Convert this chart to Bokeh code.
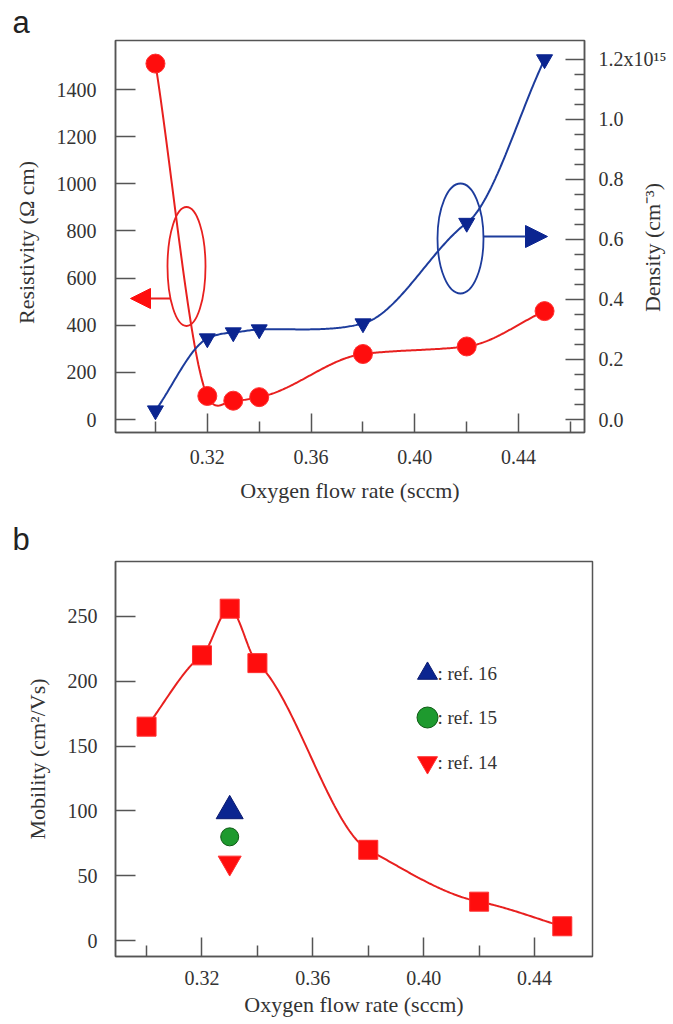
import numpy as np
from bokeh.plotting import figure
from bokeh.models import (Range1d, LinearAxis, FixedTicker, Arrow, NormalHead,
                          PrintfTickFormatter, Label)
from bokeh.layouts import column
from bokeh.embed import file_html
from bokeh.resources import INLINE
from bokeh.core.properties import value

# ---------------- data ----------------
flow_rate = [0.30, 0.32, 0.33, 0.34, 0.38, 0.42, 0.45]
resistivity = [1510, 100, 80, 95, 278, 310, 460]          # Ohm cm
density_e15 = [0.03, 0.27, 0.29, 0.30, 0.32, 0.655, 1.20]  # x1e15 cm^-3
mobility = [165, 220, 256, 214, 70, 30, 11]               # cm2/Vs

ref_labels = [": ref. 16", ": ref. 15", ": ref. 14"]
ref_flow = [0.33, 0.33, 0.33]
ref_mobility = [100, 80, 60]
ref_markers = ["triangle", "circle", "inverted_triangle"]

x_major_ticks = [0.32, 0.36, 0.40, 0.44]
x_minor_ticks_a = [0.30, 0.34, 0.38, 0.42, 0.46]
x_minor_ticks_b = [0.30, 0.34, 0.38, 0.42]
res_ticks = [0, 200, 400, 600, 800, 1000, 1200, 1400]
dens_ticks = [0.0, 0.2, 0.4, 0.6, 0.8, 1.0, 1.2]
dens_minor = [0.05, 0.10, 0.15, 0.25, 0.30, 0.35, 0.45, 0.50, 0.55,
              0.65, 0.70, 0.75, 0.85, 0.90, 0.95, 1.05, 1.10, 1.15]
mob_ticks = [0, 50, 100, 150, 200, 250]

# ---------------- style ----------------
RED = "#e8201f"
RED_M = "#ff0d0d"
BLUE = "#1d3c9c"
BLUE_M = "#0b2590"
GREEN = "#1e9a2e"
AX = "#555555"
TXT = "#333333"
SERIF = "Liberation Serif"
SANS = "Liberation Sans"
W = 673


def smooth(x, y, tension=0.5, n=300):
    """Cardinal (Catmull-Rom type) spline through the data points."""
    x = np.asarray(x, float)
    y = np.asarray(y, float)
    h = np.diff(x)
    m = np.zeros_like(y)
    m[0] = (y[1] - y[0]) / h[0]
    m[-1] = (y[-1] - y[-2]) / h[-1]
    for k in range(1, len(x) - 1):
        m[k] = (1 - tension) * (y[k + 1] - y[k - 1]) / (x[k + 1] - x[k - 1])
    xs = np.linspace(x[0], x[-1], n)
    idx = np.clip(np.searchsorted(x, xs) - 1, 0, len(x) - 2)
    t = (xs - x[idx]) / h[idx]
    h00 = 2 * t**3 - 3 * t**2 + 1
    h10 = t**3 - 2 * t**2 + t
    h01 = -2 * t**3 + 3 * t**2
    h11 = t**3 - t**2
    ys = h00 * y[idx] + h10 * h[idx] * m[idx] + h01 * y[idx + 1] + h11 * h[idx] * m[idx + 1]
    return xs, ys


def style_axis(ax, major_in=20, minor_in=10, standoff=18, label_standoff=14):
    ax.axis_line_color = AX
    ax.axis_line_width = 1.5
    ax.major_tick_in = major_in
    ax.major_tick_out = 0
    ax.minor_tick_in = minor_in
    ax.minor_tick_out = 0
    ax.major_tick_line_color = AX
    ax.major_tick_line_width = 1.5
    ax.minor_tick_line_color = AX
    ax.minor_tick_line_width = 1.5
    ax.major_label_text_font = SERIF
    ax.major_label_text_font_size = "20px"
    ax.major_label_text_color = TXT
    ax.major_label_standoff = standoff
    ax.axis_label_text_font = SERIF
    ax.axis_label_text_font_size = "22px"
    ax.axis_label_text_font_style = "normal"
    ax.axis_label_text_color = TXT
    ax.axis_label_standoff = label_standoff


def base_fig(xr, yr, bl, br, bt, bb, xlab, ylab, panel, title_standoff):
    p = figure(width=W, height=512, x_range=xr, y_range=yr,
               min_border_left=bl, min_border_right=br,
               min_border_top=bt, min_border_bottom=bb,
               output_backend="svg", toolbar_location=None,
               x_axis_label=xlab, y_axis_label=ylab)
    p.frame_align = False
    p.xgrid.visible = False
    p.ygrid.visible = False
    p.outline_line_color = AX
    p.outline_line_width = 1.5
    p.background_fill_color = "white"
    p.border_fill_color = "white"
    # panel letter as the figure title, pulled to the left edge
    p.title.text = panel
    p.title.align = "left"
    p.title.offset = 12 - bl
    p.title.standoff = title_standoff
    p.title.text_font = SANS
    p.title.text_font_size = "31px"
    p.title.text_font_style = "normal"
    p.title.text_color = "#222222"
    return p


def side_title(text, x, y):
    return Label(x=x, y=y, text=text, angle=np.pi / 2,
                 text_align="center", text_baseline="middle",
                 text_font=SERIF, text_font_size="22px", text_color=TXT)


# =============== panel a ===============
XA0, XA1 = 0.2846, 0.4654
RA0, RA1 = -55, 1608
DA0, DA1 = -0.0433, 1.263
FA = dict(L=115, R=584, T=40, B=432)

pa = base_fig(Range1d(XA0, XA1), Range1d(RA0, RA1), 115, 89, 40, 80,
              "Oxygen flow rate (sccm)", None, "a", 1)
pa.extra_y_ranges = {"dens": Range1d(DA0, DA1)}

pa.xaxis.ticker = FixedTicker(ticks=x_major_ticks, minor_ticks=x_minor_ticks_a)
pa.xaxis.formatter = PrintfTickFormatter(format="%.2f")
style_axis(pa.xaxis[0], 19, 11, 17, 11)
pa.yaxis.ticker = FixedTicker(ticks=res_ticks)
style_axis(pa.yaxis[0], 20, 0, 19, 0)
pa.yaxis.minor_tick_line_color = None

ra = LinearAxis(y_range_name="dens",
                ticker=FixedTicker(ticks=dens_ticks, minor_ticks=dens_minor),
                formatter=PrintfTickFormatter(format="%.1f"))
style_axis(ra, 19, 10, 14, 0)
ra.major_label_overrides = {1.2: "1.2x10\u00b9\u2075"}
pa.add_layout(ra, "right")


def ax_px(px):
    return XA0 + (px - FA["L"]) / (FA["R"] - FA["L"]) * (XA1 - XA0)


def ay_px(py, y0, y1):
    return y0 + (FA["B"] - py) / (FA["B"] - FA["T"]) * (y1 - y0)


# vertical axis titles, kept in the (roomier) left side panel so they are not clipped
pa.add_layout(side_title("Resistivity (\u03a9 cm)", ax_px(26), ay_px(242, RA0, RA1)), "left")
pa.add_layout(side_title("Density (cm\u207b\u00b3)", ax_px(652), ay_px(247, RA0, RA1)), "left")

xs, ys = smooth(flow_rate, resistivity)
pa.line(xs, ys, line_color=RED, line_width=2)
xs, ys = smooth(flow_rate, density_e15)
pa.line(xs, ys, line_color=BLUE, line_width=2, y_range_name="dens")
pa.scatter(flow_rate, resistivity, marker="circle", size=19,
           fill_color=RED_M, line_color="#ff3030")
pa.scatter(flow_rate, density_e15, marker="inverted_triangle", size=16,
           fill_color=BLUE_M, line_color=BLUE_M, y_range_name="dens")

# ellipses and arrows (annotations)
pa.ellipse(x=[ax_px(186)], y=[ay_px(266, RA0, RA1)], width=38, height=119,
           width_units="screen", height_units="screen",
           fill_color=None, line_color=RED, line_width=1.8)
pa.ellipse(x=[ax_px(460)], y=[ay_px(238, DA0, DA1)], width=46, height=110,
           width_units="screen", height_units="screen",
           fill_color=None, line_color=BLUE, line_width=1.8, y_range_name="dens")
pa.add_layout(Arrow(end=NormalHead(size=20, fill_color=RED_M, line_color=RED_M),
                    x_start=ax_px(170), y_start=ay_px(298, RA0, RA1),
                    x_end=ax_px(130), y_end=ay_px(298, RA0, RA1),
                    line_color=RED, line_width=2))
pa.add_layout(Arrow(end=NormalHead(size=22, fill_color=BLUE_M, line_color=BLUE_M),
                    x_start=ax_px(483), y_start=ay_px(236, DA0, DA1),
                    x_end=ax_px(547), y_end=ay_px(236, DA0, DA1),
                    line_color=BLUE, line_width=2, y_range_name="dens"))

# =============== panel b ===============
XB0, XB1 = 0.2888, 0.4609
MB0, MB1 = -12.3, 292.4
FB = dict(L=115, R=592, T=561, B=956)

pb = base_fig(Range1d(XB0, XB1), Range1d(MB0, MB1), 115, 81, 49, 68,
              "Oxygen flow rate (sccm)", "Mobility (cm\u00b2/Vs)", "b", 9)
pb.xaxis.ticker = FixedTicker(ticks=x_major_ticks, minor_ticks=x_minor_ticks_b)
pb.xaxis.formatter = PrintfTickFormatter(format="%.2f")
style_axis(pb.xaxis[0], 19, 11, 14, 4)
pb.yaxis.ticker = FixedTicker(ticks=mob_ticks)
style_axis(pb.yaxis[0], 20, 0, 18, 15)
pb.yaxis.minor_tick_line_color = None


def bx_px(px):
    return XB0 + (px - FB["L"]) / (FB["R"] - FB["L"]) * (XB1 - XB0)


def by_px(py):
    return MB0 + (FB["B"] - py) / (FB["B"] - FB["T"]) * (MB1 - MB0)


xs, ys = smooth(flow_rate, mobility)
pb.line(xs, ys, line_color=RED, line_width=2)
pb.scatter(flow_rate, mobility, marker="square", size=19,
           fill_color=RED_M, line_color="#ff3030")

ref_fill = [BLUE_M, GREEN, RED_M]
ref_line = ["#0a1a70", "#0d5a14", "#ff3030"]
ref_size = [27, 18, 23]
leg_size = [20, 21, 20]
for i in range(3):
    pb.scatter([ref_flow[i]], [ref_mobility[i]], marker=ref_markers[i], size=ref_size[i],
               fill_color=ref_fill[i], line_color=ref_line[i], line_width=1)

leg_y_px = [673, 717, 762]
for i in range(3):
    pb.scatter([bx_px(427)], [by_px(leg_y_px[i])], marker=ref_markers[i], size=leg_size[i],
               fill_color=ref_fill[i], line_color=ref_line[i], line_width=1)
pb.text(x=[bx_px(437)] * 3, y=[by_px(v) for v in leg_y_px], text=ref_labels,
        text_font=value(SERIF), text_font_size="19px", text_color=TXT,
        text_align="left", text_baseline="middle")

page = column(pa, pb, spacing=0)
open("out.html", "w").write(file_html(page, INLINE))
